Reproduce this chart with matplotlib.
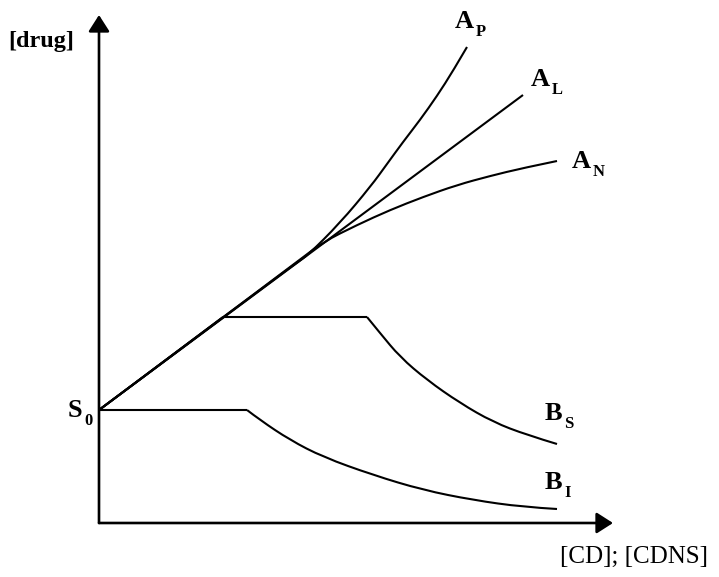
import matplotlib.pyplot as plt
from matplotlib.path import Path
from matplotlib.patches import PathPatch

# phase solubility diagram (arbitrary units)
s0 = 113

ap_x = [0, 198, 208, 241, 272, 288, 304, 321, 338, 354, 368]
ap_y = [s0, 261, 267, 300, 337, 359, 381, 403, 427, 452, 476]

al_x = [0, 424]
al_y = [s0, 428]

an_x = [0, 198, 224, 258, 291, 324, 358, 391, 424, 458]
an_y = [s0, 261, 281, 298, 313, 326, 338, 347, 355, 362]

bs_x = [0, 124, 268, 281, 301, 328, 361, 394, 428, 458]
bs_y = [s0, 206, 206, 190, 166, 143, 120, 101, 88, 79]

bi_x = [0, 148, 161, 191, 224, 274, 324, 374, 424, 458]
bi_y = [s0, 113, 103, 83, 66, 48, 33, 23, 16, 14]

# series, plus indices of the sharp corners in each one
curves = [
    (ap_x, ap_y, []),
    (al_x, al_y, []),
    (an_x, an_y, []),
    (bs_x, bs_y, [1, 2]),
    (bi_x, bi_y, [1]),
]

labels = [
    (356, 495, 'A', 'P'),
    (432, 437, 'A', 'L'),
    (473, 355, 'A', 'N'),
    (446, 103, 'B', 'S'),
    (446, 34, 'B', 'I'),
    (-31, 106, 'S', '0'),
]


def smooth_piece(pts):
    # quadratic bezier through midpoints, the points act as control points
    verts = [pts[0]]
    codes = [Path.MOVETO]
    for i in range(1, len(pts) - 1):
        nxt = pts[i + 1] if i == len(pts) - 2 else (
            (pts[i][0] + pts[i + 1][0]) / 2, (pts[i][1] + pts[i + 1][1]) / 2)
        verts += [pts[i], nxt]
        codes += [Path.CURVE3, Path.CURVE3]
    if len(pts) == 2:
        verts.append(pts[1])
        codes.append(Path.LINETO)
    return Path(verts, codes)


def draw_curve(ax, x, y, corners):
    pts = list(zip(x, y))
    cuts = [0] + corners + [len(pts) - 1]
    for a, b in zip(cuts[:-1], cuts[1:]):
        patch = PathPatch(smooth_piece(pts[a:b + 1]), fill=False, lw=1.5,
                          edgecolor='black', capstyle='butt', joinstyle='miter')
        ax.add_patch(patch)


plt.rcParams['font.family'] = ['Liberation Serif', 'DejaVu Serif']

fig = plt.figure(figsize=(7.19, 5.77), dpi=100)
ax = fig.add_axes([0, 0, 1, 1])
ax.set_xlim(-99, 620)
ax.set_ylim(-54, 523)
ax.axis('off')

arrow = dict(arrowstyle='-|>,head_length=0.5,head_width=0.32', lw=1.9,
             color='black', mutation_scale=20, shrinkA=0, shrinkB=0)
ax.annotate('', xy=(0, 508), xytext=(0, 0), arrowprops=arrow)
ax.annotate('', xy=(514, 0), xytext=(0, 0), arrowprops=arrow)

for x, y, corners in curves:
    draw_curve(ax, x, y, corners)

for x, y, main, sub in labels:
    t = ax.text(x, y, main, fontsize=19, fontweight='bold', ha='left', va='baseline')
    ax.annotate(sub, xy=(1, 0), xycoords=t, xytext=(1, -2), textcoords='offset points',
                fontsize=12, fontweight='bold', ha='left', va='baseline')

ax.text(-91, 482, '[drug]', fontsize=17.5, fontweight='bold', ha='left', va='center')
ax.text(461, -34, '[CD]; [CDNS]', fontsize=18, ha='left', va='center')

fig.savefig('out.png', dpi=100)
